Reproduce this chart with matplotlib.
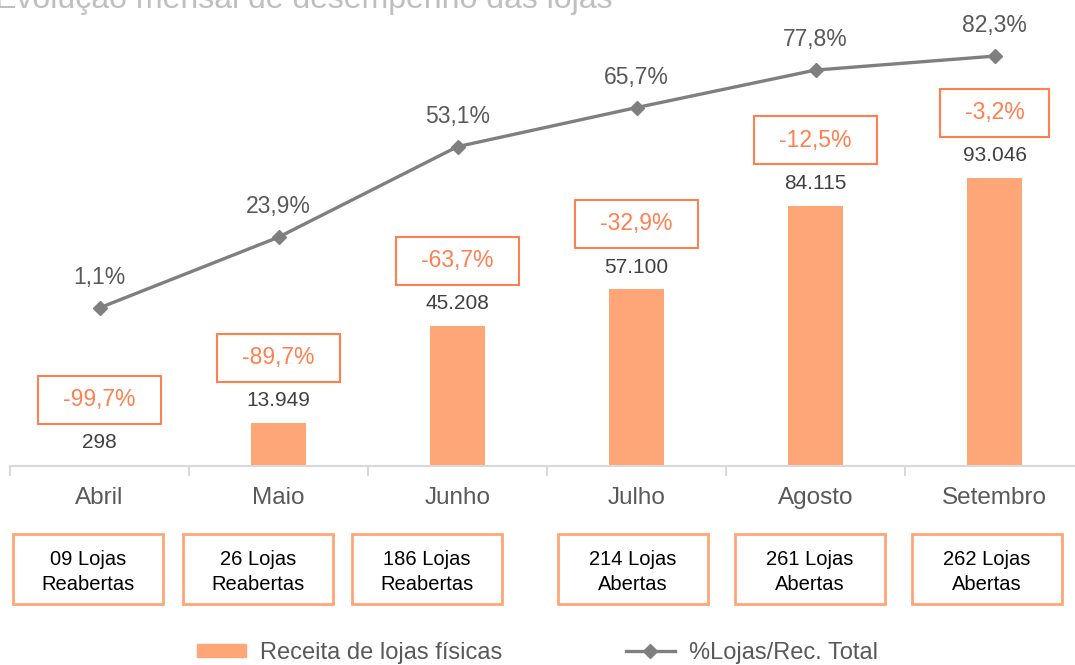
import matplotlib
matplotlib.use('Agg')
import matplotlib.pyplot as plt
from matplotlib.patches import Rectangle, Patch
from matplotlib.lines import Line2D

plt.rcParams['font.family'] = ['Liberation Sans', 'DejaVu Sans']

# dados
meses = ['Abril', 'Maio', 'Junho', 'Julho', 'Agosto', 'Setembro']
receita = [298, 13949, 45208, 57100, 84115, 93046]
pct_lojas = [1.1, 23.9, 53.1, 65.7, 77.8, 82.3]
variacao = [-99.7, -89.7, -63.7, -32.9, -12.5, -3.2]
n_lojas = ['09', '26', '186', '214', '261', '262']
status = ['Reabertas', 'Reabertas', 'Reabertas', 'Abertas', 'Abertas', 'Abertas']

cor_barra = '#FFA678'
cor_coral = '#FF7F50'
cor_linha = '#7F7F7F'
cor_texto = '#595959'

W, H = 1075, 665
fig = plt.figure(figsize=(W / 100, H / 100), dpi=100)
ax = fig.add_axes([10 / W, (H - 466) / H, 1074 / W, 466 / H])

x = list(range(len(meses)))
ax.bar(x, receita, width=0.31, color=cor_barra, zorder=2)
ax.set_xlim(-0.5, 5.5)
ax.set_ylim(0, 150565)

for s in ['top', 'left', 'right']:
    ax.spines[s].set_visible(False)
ax.spines['bottom'].set_color('#D9D9D9')
ax.spines['bottom'].set_linewidth(1.5)
ax.set_yticks([])
ax.set_xticks(x)
ax.set_xticklabels(meses, fontsize=17.5, color=cor_texto)
ax.tick_params(axis='x', which='major', length=0, pad=15)
ax.set_xticks([i - 0.5 for i in range(len(meses) + 1)], minor=True)
ax.tick_params(axis='x', which='minor', length=7, width=1.5, color='#D9D9D9')

ax2 = ax.twinx()
ax2.plot(x, pct_lojas, color=cor_linha, lw=2.4, marker='D', markersize=7, zorder=3)
ax2.set_ylim(-49.9, 100.4)
ax2.set_yticks([])
for s in ax2.spines.values():
    s.set_visible(False)

for i, v in enumerate(pct_lojas):
    ax2.annotate(f"{v:.1f}%".replace('.', ','), (i, v), xytext=(0, 22),
                 textcoords='offset points', ha='center', va='center',
                 fontsize=16.5, color=cor_texto)

for i, v in enumerate(receita):
    ax.annotate(f"{v:,}".replace(',', '.'), (i, v), xytext=(0, 16),
                textcoords='offset points', ha='center', va='center',
                fontsize=15, color='#404040')

fig.canvas.draw()
r = fig.canvas.get_renderer()
for i, (v, d) in enumerate(zip(receita, variacao)):
    t = ax.annotate(f"{d:.1f}%".replace('.', ','), (i, v), xytext=(0, 47),
                    textcoords='offset points', ha='center', va='center',
                    fontsize=16.5, color=cor_coral)
    bb = t.get_window_extent(r)
    w, h = bb.width + 50, 48
    cx, cy = (bb.x0 + bb.x1) / 2, (bb.y0 + bb.y1) / 2
    fig.add_artist(Rectangle((cx - w / 2, cy - h / 2), w, h, transform=None,
                             fill=False, ec=cor_coral, lw=1.5))

# caixas de lojas
esq = [13, 183, 352, 558, 735, 912]
for i, (n, s) in enumerate(zip(n_lojas, status)):
    x0, y0, bw, bh = esq[i], 534, 150, 70
    fig.add_artist(Rectangle((x0 / W, 1 - (y0 + bh) / H), bw / W, bh / H,
                             transform=fig.transFigure, fill=False,
                             ec=cor_barra, lw=2))
    fig.text((x0 + bw / 2) / W, 1 - (y0 + bh / 2 + 3) / H, f"{n} Lojas\n{s}",
             ha='center', va='center', fontsize=14.5, color='black',
             linespacing=1.4)

fig.text(-5 / W, 1 - 8 / H, 'Evolução mensal de desempenho das lojas',
         fontsize=23, color='#BFBFBF', va='baseline', ha='left')

handles = [Patch(color=cor_barra),
           Line2D([], [], color=cor_linha, lw=2.4, marker='D', markersize=7)]
fig.legend(handles, ['Receita de lojas físicas', '%Lojas/Rec. Total'],
           loc='center', bbox_to_anchor=(0.5, 1 - 653 / H), ncol=2,
           frameon=False, fontsize=17, labelcolor=cor_texto,
           columnspacing=5.2, handlelength=2.1, handletextpad=0.6,
           handleheight=0.5)

fig.savefig('out.png', dpi=100)
